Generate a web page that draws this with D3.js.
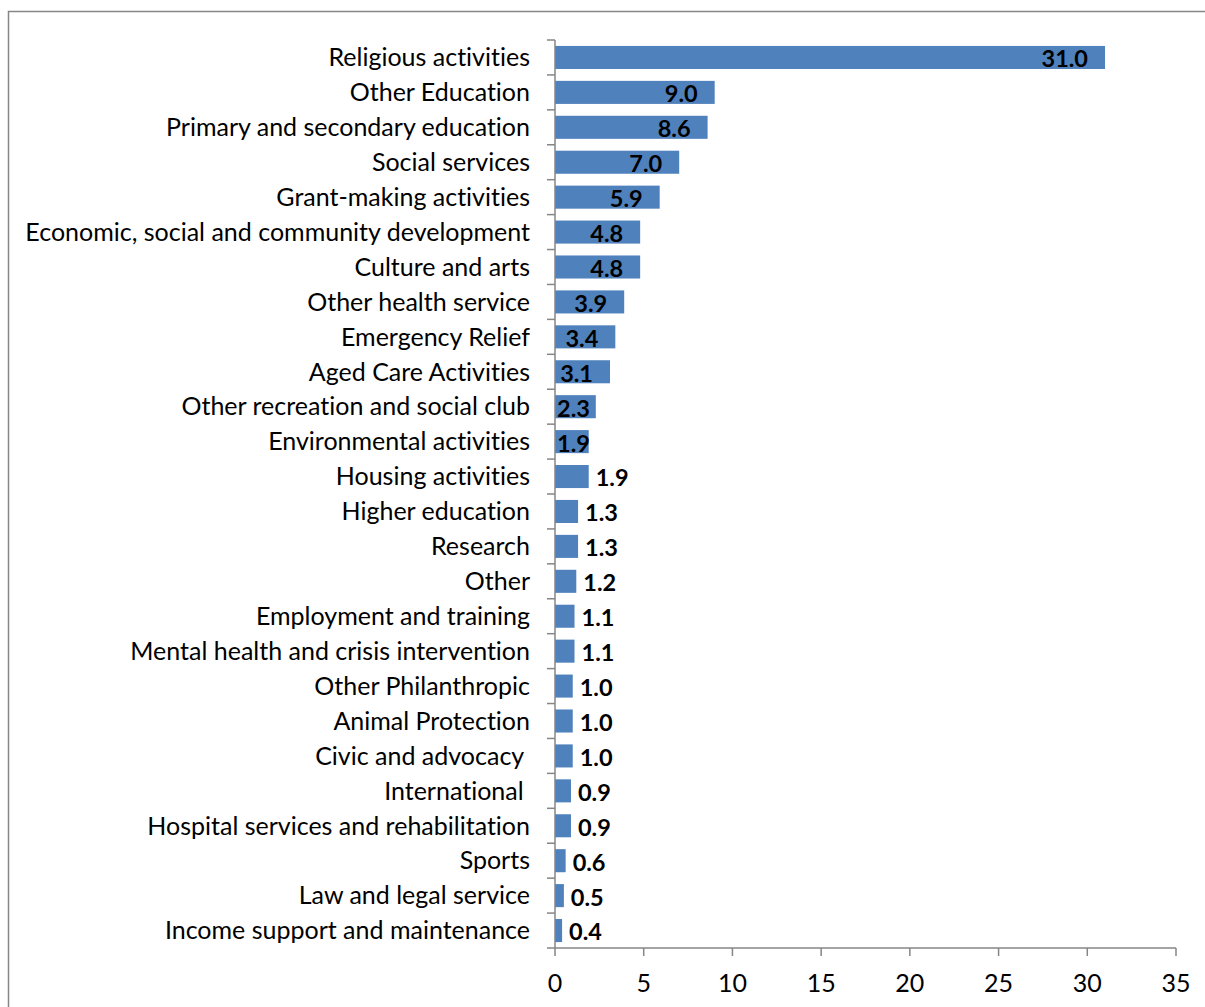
<!DOCTYPE html>
<html><head><meta charset="utf-8">
<script src="https://cdn.jsdelivr.net/npm/d3@7"></script>
<style>html,body{margin:0;padding:0;background:#fff;}svg{display:block;}text{font-variant-ligatures:none;font-feature-settings:"liga" 0;}</style>
</head><body>
<script>
const categories = ["Religious activities","Other Education","Primary and secondary education","Social services","Grant-making activities","Economic, social and community development","Culture and arts","Other health service","Emergency Relief","Aged Care Activities","Other recreation and social club","Environmental activities","Housing activities","Higher education","Research","Other","Employment and training","Mental health and crisis intervention","Other Philanthropic","Animal Protection","Civic and advocacy ","International ","Hospital services and rehabilitation","Sports","Law and legal service","Income support and maintenance"];
const values = [31.0,9.0,8.6,7.0,5.9,4.8,4.8,3.9,3.4,3.1,2.3,1.9,1.9,1.3,1.3,1.2,1.1,1.1,1.0,1.0,1.0,0.9,0.9,0.6,0.5,0.4];
const xTicks = [0,5,10,15,20,25,30,35];
const labelsInsideCount = 12;

const W = 1205, H = 1007;
const svg = d3.select("body").append("svg").attr("width", W).attr("height", H);
const font = "Lato, sans-serif";
const axisColor = "#868686";
const barColor = "#4F81BD";

svg.append("rect").attr("x", 8.5).attr("y", 11.5).attr("width", 1300).attr("height", 1100)
  .attr("fill", "none").attr("stroke", axisColor).attr("stroke-width", 1.5);

const x = d3.scaleLinear().domain([0, 35]).range([555, 1176]);
const y = d3.scaleBand().domain(categories).range([40, 948]).paddingInner(0.34).paddingOuter(0.17);
const step = y.step();

// bars
svg.append("g").selectAll("rect").data(values).join("rect")
  .attr("x", x(0)).attr("y", (d, i) => y(categories[i]))
  .attr("width", d => x(d) - x(0)).attr("height", y.bandwidth())
  .attr("fill", barColor);

// y axis
const gy = svg.append("g");
gy.append("line").attr("x1", x(0)).attr("x2", x(0)).attr("y1", 40).attr("y2", 948)
  .attr("stroke", axisColor).attr("stroke-width", 1.5);
gy.selectAll("line.t").data(d3.range(categories.length + 1)).join("line").attr("class", "t")
  .attr("x1", x(0) - 8).attr("x2", x(0)).attr("y1", i => 40 + i * step).attr("y2", i => 40 + i * step)
  .attr("stroke", axisColor).attr("stroke-width", 1.5);
gy.selectAll("text").data(categories).join("text")
  .attr("x", 530).attr("y", d => y(d) + y.bandwidth() / 2).attr("dy", "0.35em")
  .attr("text-anchor", "end").attr("font-family", font).attr("font-size", 25)
  .attr("fill", "#000").style("white-space", "pre").text(d => d);

// x axis
const gx = svg.append("g").attr("transform", "translate(0,948)");
gx.append("line").attr("x1", x(0)).attr("x2", x(35)).attr("stroke", axisColor).attr("stroke-width", 1.5);
gx.selectAll("line.t").data(xTicks).join("line").attr("class", "t")
  .attr("x1", d => x(d)).attr("x2", d => x(d)).attr("y1", 0).attr("y2", 8)
  .attr("stroke", axisColor).attr("stroke-width", 1.5);
gx.selectAll("text").data(xTicks).join("text")
  .attr("x", d => x(d)).attr("y", 35).attr("dy", "0.35em")
  .attr("text-anchor", "middle").attr("font-family", font).attr("font-size", 25)
  .attr("fill", "#000").text(d => d);

// value labels
const lab = svg.append("g").selectAll("text").data(values).join("text")
  .attr("y", (d, i) => y(categories[i]) + y.bandwidth() / 2 + 1.5).attr("dy", "0.36em")
  .attr("font-family", font).attr("font-size", 23.5).attr("font-weight", "bold")
  .attr("fill", "#000").text(d => d.toFixed(1));
lab.each(function(d, i) {
  const w = this.getComputedTextLength();
  const end = x(d);
  let tx;
  if (i < labelsInsideCount) tx = Math.max(end - 17 - w, x(0) + 2);
  else tx = end + 7;
  d3.select(this).attr("x", tx);
});
</script>
</body></html>
